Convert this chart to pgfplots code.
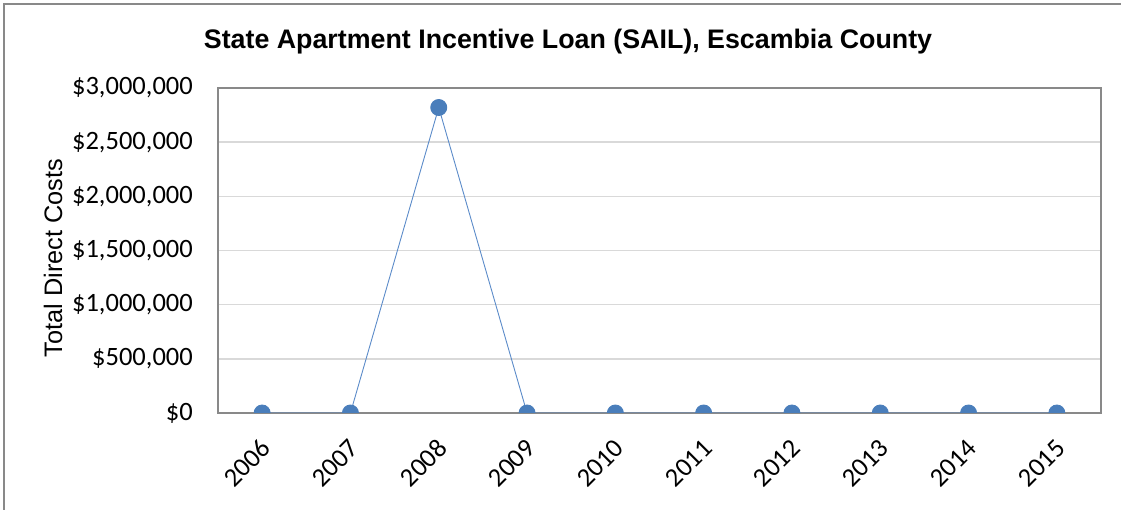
\documentclass[border=0pt]{standalone}
\usepackage{pgfplots}
\pgfplotsset{compat=1.18}
\usepackage{fontspec}
\setmainfont{Carlito}
\newfontfamily\arialfont{Liberation Sans}
\definecolor{mkblue}{HTML}{4A7EBB}
\definecolor{lnblue}{HTML}{5B8BC9}
\definecolor{gridgray}{HTML}{D9D9D9}
\definecolor{axgray}{HTML}{898989}
\begin{document}
\begin{tikzpicture}
\useasboundingbox (0,0) rectangle (1121bp,510bp);
\draw[color=axgray, line width=1.5bp] (4bp,-10bp) -- (4bp,506bp) -- (1135bp,506bp);
\begin{axis}[
  at={(218bp,97bp)}, anchor=south west,
  scale only axis, width=883bp, height=325bp,
  xmin=-0.5, xmax=9.5, ymin=0, ymax=3000000,
  xtick={0,...,9},
  xticklabels={2006,2007,2008,2009,2010,2011,2012,2013,2014,2015},
  ytick={0,500000,1000000,1500000,2000000,2500000,3000000},
  scaled ticks=false,
  /pgf/number format/assume math mode=true,
  /pgf/number format/fixed,
  /pgf/number format/1000 sep={,},
  yticklabel={\$\pgfmathprintnumber{\tick}},
  tick style={draw=none},
  ymajorgrids, grid style={color=gridgray, line width=1.5bp},
  axis line style={color=axgray, line width=1.5bp},
  tick label style={font=\fontsize{26.5bp}{31bp}\selectfont},
  yticklabel style={inner sep=0pt, xshift=-25bp},
  xticklabel style={inner sep=0pt, xshift=4bp, yshift=-31bp, rotate=45, anchor=east},
  clip marker paths=true,
  axis on top=false,
]
\addplot[color=lnblue, line width=0.9bp, mark=*, mark size=8bp,
  mark options={fill=mkblue, draw=mkblue}]
  coordinates {(0,0) (1,0) (2,2820000) (3,0) (4,0) (5,0) (6,0) (7,0) (8,0) (9,0)};
\end{axis}
\node[anchor=base, inner sep=0pt, font=\arialfont\bfseries\fontsize{26.8bp}{31bp}\selectfont] at (568bp,461bp) {State Apartment Incentive Loan (SAIL), Escambia County};
\node[rotate=90, anchor=base, inner sep=0pt, font=\arialfont\fontsize{25.3bp}{30bp}\selectfont] at (62bp,252bp) {Total Direct Costs};
\end{tikzpicture}
\end{document}
